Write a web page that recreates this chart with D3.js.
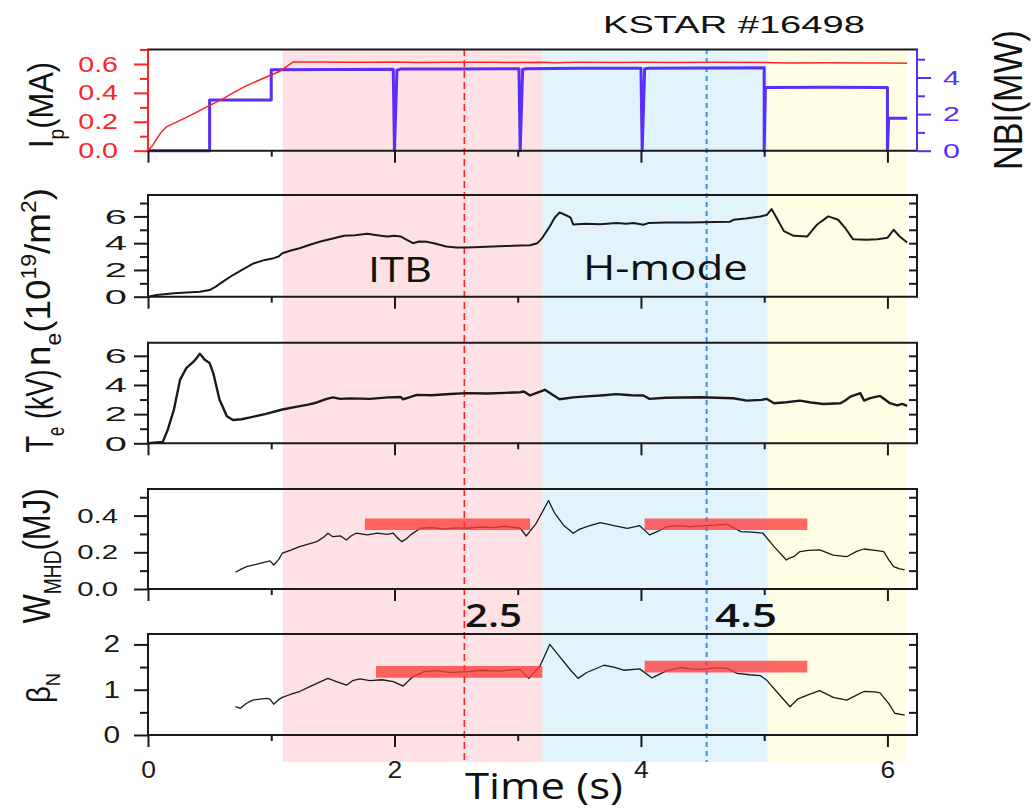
<!DOCTYPE html>
<html>
<head>
<meta charset="utf-8">
<script src="https://cdn.jsdelivr.net/npm/d3@7"></script>
<style>body{margin:0;background:#fff}</style>
</head>
<body>
<svg id="chart" width="1036" height="809"></svg>
<script>
// ---- data: [time (s), value] ----
const ipData = [[0,0],[0.04,0.04],[0.1,0.12],[0.15,0.165],[0.26,0.21],[0.38,0.26],[0.48,0.305],[0.6,0.355],
  [0.69,0.40],[0.8,0.45],[0.96,0.51],[1.07,0.55],[1.12,0.58],[1.18,0.614],[1.4,0.613],[1.6,0.611],[1.8,0.612],
  [2.0,0.613],[2.2,0.61],[2.4,0.612],[2.6,0.611],[2.8,0.612],[3.0,0.61],[3.2,0.612],[3.3,0.608],[3.5,0.611],
  [3.8,0.61],[4.0,0.612],[4.3,0.61],[4.6,0.611],[5.0,0.61],[5.2,0.606],[5.5,0.608],[5.8,0.606],[6.0,0.607],[6.16,0.605]];

const nbiData = [[0,0],[0.5,0],[0.5,2.77],[1.0,2.77],[1.0,4.42],[1.5,4.44],[1.99,4.45],[2.0,0],[2.02,4.4],
  [2.05,4.46],[2.5,4.47],[3.01,4.48],[3.02,0],[3.04,4.44],[3.07,4.48],[3.5,4.5],[4.0,4.51],[4.01,0],[4.03,4.46],
  [4.06,4.51],[4.5,4.52],[5.0,4.53],[5.0,0],[5.01,3.46],[5.5,3.47],[6.0,3.46],[6.0,0],[6.01,1.77],[6.16,1.77]];

const neData = [[0,0],[0.07,0.12],[0.21,0.25],[0.42,0.37],[0.5,0.5],[0.55,0.75],[0.62,1.2],[0.69,1.62],[0.78,2.1],
  [0.86,2.5],[0.95,2.75],[1.02,2.88],[1.06,3.0],[1.09,3.25],[1.16,3.45],[1.23,3.62],[1.32,3.9],[1.4,4.12],
  [1.5,4.35],[1.59,4.55],[1.68,4.6],[1.78,4.7],[1.86,4.6],[1.94,4.5],[2.0,4.55],[2.05,4.5],[2.1,4.25],[2.15,4.0],
  [2.2,4.12],[2.26,4.1],[2.32,4.0],[2.42,3.75],[2.5,3.68],[2.59,3.68],[2.7,3.72],[2.8,3.75],[2.9,3.78],[3.02,3.83],
  [3.1,3.85],[3.16,4.0],[3.2,4.4],[3.26,5.25],[3.3,5.9],[3.34,6.3],[3.4,6.05],[3.43,5.9],[3.45,5.4],[3.55,5.45],
  [3.67,5.42],[3.8,5.5],[3.88,5.45],[3.94,5.5],[4.02,5.38],[4.06,5.5],[4.21,5.55],[4.4,5.55],[4.6,5.58],[4.72,5.6],
  [4.75,5.75],[4.85,5.85],[4.97,6.0],[5.02,6.1],[5.06,6.55],[5.1,5.9],[5.16,4.9],[5.24,4.55],[5.35,4.5],[5.43,5.4],
  [5.52,6.0],[5.6,5.75],[5.66,5.1],[5.72,4.3],[5.83,4.25],[5.92,4.3],[6.0,4.4],[6.05,5.0],[6.1,4.5],[6.16,4.05]];

const teData = [[0,0],[0.12,0.1],[0.16,0.92],[0.21,2.3],[0.26,4.35],[0.31,5.15],[0.37,5.6],[0.4,5.9],[0.42,6.14],
  [0.44,5.95],[0.46,5.73],[0.5,5.5],[0.53,4.8],[0.58,3.0],[0.64,1.85],[0.69,1.6],[0.76,1.65],[0.83,1.78],[0.95,2.0],
  [1.09,2.32],[1.2,2.5],[1.3,2.65],[1.37,2.8],[1.45,3.05],[1.5,3.15],[1.56,3.05],[1.64,3.08],[1.8,3.05],[1.95,3.15],
  [2.05,3.18],[2.07,3.02],[2.12,3.15],[2.18,3.32],[2.3,3.3],[2.45,3.38],[2.59,3.44],[2.75,3.42],[2.9,3.46],[3.02,3.5],
  [3.05,3.55],[3.1,3.28],[3.22,3.67],[3.34,3.02],[3.45,3.15],[3.53,3.2],[3.7,3.3],[3.8,3.37],[3.92,3.3],[4.02,3.28],
  [4.07,3.05],[4.2,3.12],[4.48,3.16],[4.75,3.09],[4.86,2.93],[4.98,2.98],[5.02,3.05],[5.08,2.75],[5.18,2.82],
  [5.29,2.93],[5.38,2.8],[5.48,2.7],[5.62,2.75],[5.66,2.95],[5.7,3.2],[5.78,3.44],[5.81,2.93],[5.86,3.1],[5.94,3.25],
  [5.98,3.0],[6.02,2.75],[6.08,2.6],[6.12,2.7],[6.16,2.57]];

const wData = [[0.71,0.091],[0.76,0.11],[0.8,0.122],[0.91,0.14],[0.99,0.153],[1.02,0.131],[1.06,0.16],[1.09,0.195],
  [1.16,0.212],[1.23,0.231],[1.3,0.245],[1.37,0.258],[1.43,0.285],[1.46,0.304],[1.5,0.285],[1.56,0.29],[1.61,0.267],
  [1.65,0.29],[1.69,0.304],[1.78,0.295],[1.86,0.305],[1.94,0.298],[1.99,0.304],[2.03,0.275],[2.06,0.258],[2.1,0.275],
  [2.13,0.295],[2.21,0.331],[2.3,0.335],[2.4,0.328],[2.5,0.333],[2.59,0.331],[2.7,0.338],[2.8,0.335],[2.9,0.342],
  [3.02,0.331],[3.07,0.289],[3.15,0.358],[3.2,0.42],[3.25,0.482],[3.3,0.413],[3.37,0.349],[3.45,0.304],[3.5,0.325],
  [3.56,0.34],[3.67,0.362],[3.78,0.345],[3.89,0.331],[3.99,0.345],[4.07,0.295],[4.14,0.315],[4.21,0.34],[4.3,0.345],
  [4.4,0.34],[4.48,0.344],[4.6,0.348],[4.7,0.353],[4.81,0.313],[4.9,0.31],[4.99,0.304],[5.08,0.231],[5.18,0.158],
  [5.21,0.17],[5.24,0.176],[5.29,0.204],[5.36,0.21],[5.45,0.213],[5.56,0.185],[5.67,0.176],[5.75,0.205],[5.81,0.218],
  [5.9,0.21],[5.97,0.204],[6.01,0.16],[6.05,0.122],[6.1,0.11],[6.14,0.104]];

const betaData = [[0.71,0.625],[0.75,0.59],[0.8,0.7],[0.85,0.77],[0.96,0.81],[0.99,0.79],[1.02,0.68],[1.06,0.78],
  [1.09,0.83],[1.16,0.9],[1.23,0.96],[1.3,1.05],[1.37,1.14],[1.46,1.25],[1.53,1.18],[1.61,1.1],[1.66,1.2],[1.72,1.24],
  [1.8,1.2],[1.9,1.22],[1.99,1.18],[2.07,1.08],[2.15,1.29],[2.24,1.4],[2.35,1.42],[2.45,1.38],[2.59,1.4],[2.7,1.43],
  [2.85,1.41],[3.02,1.45],[3.05,1.36],[3.09,1.25],[3.18,1.52],[3.26,2.0],[3.34,1.73],[3.43,1.43],[3.49,1.25],
  [3.56,1.38],[3.7,1.54],[3.78,1.5],[3.86,1.43],[3.99,1.46],[4.09,1.26],[4.21,1.42],[4.32,1.49],[4.4,1.46],
  [4.48,1.45],[4.6,1.48],[4.7,1.47],[4.78,1.36],[4.88,1.33],[4.97,1.31],[5.02,1.21],[5.1,0.96],[5.21,0.625],
  [5.27,0.79],[5.35,0.88],[5.45,0.98],[5.56,0.83],[5.67,0.77],[5.75,0.88],[5.81,0.96],[5.9,0.95],[5.94,0.93],
  [6.01,0.7],[6.06,0.48],[6.14,0.44]];

// averaging windows: [start, end, level]
const wBars = [[1.76, 3.10, 0.353], [4.03, 5.35, 0.353]];
const betaBars = [[1.85, 3.20, 1.395], [4.03, 5.35, 1.51]];

// phases and analysis times
const phaseNames = ["ITB", "H-mode", ""];
const phaseStart = [1.093, 3.199, 5.029];
const phaseEnd = [3.199, 5.029, 6.156];
const markerTimes = [2.567, 4.533];
const markerLabels = ["2.5", "4.5"];
const timeTicks = [0, 2, 4, 6];
const timeMinor = [1, 3, 5];

const FONT = "'Liberation Sans', Arial, sans-serif";
const FONT2 = "'Open Sans', sans-serif";
const RED = "#ff2424";
const BLUE = "#5a2df8";

const svg = d3.select("#chart");
const x = d3.scaleLinear().domain([0, 6.24]).range([148, 917]);
const X0 = x(0), X1 = x(6.24);

const yIp = d3.scaleLinear().domain([0, 0.70]).range([150.7, 49.5]);
const yNbi = d3.scaleLinear().domain([0, 5.53]).range([150.7, 49.5]);
const yNe = d3.scaleLinear().domain([0, 7.6]).range([296.7, 195]);
const yTe = d3.scaleLinear().domain([0, 6.9]).range([443.3, 342.7]);
const yW = d3.scaleLinear().domain([0, 0.545]).range([589, 489]);
const yB = d3.scaleLinear().domain([0, 2.23]).range([735, 634]);

// background phases
const phaseColors = ["#fde1e4", "#e1f4fc", "#fffde4"];
svg.append("g").selectAll("rect")
  .data(phaseStart)
  .join("rect")
  .attr("x", (d, i) => x(d))
  .attr("width", (d, i) => x(phaseEnd[i]) - x(d))
  .attr("y", 49)
  .attr("height", 762 - 49)
  .attr("fill", (d, i) => phaseColors[i]);

// vertical dashed markers
svg.append("g").selectAll("line")
  .data(markerTimes)
  .join("line")
  .attr("x1", d => x(d)).attr("x2", d => x(d))
  .attr("y1", 49).attr("y2", 762)
  .attr("stroke", (d, i) => i === 0 ? RED : "#3b8fe0")
  .attr("stroke-width", (d, i) => i === 0 ? 1.6 : 2)
  .attr("stroke-dasharray", (d, i) => i === 0 ? "7,4" : "5,4");

function trace(data, y, color, width) {
  const line = d3.line().x(d => x(d[0])).y(d => y(d[1]));
  svg.append("path").datum(data)
    .attr("d", line)
    .attr("fill", "none")
    .attr("stroke", color)
    .attr("stroke-width", width)
    .attr("stroke-linejoin", "round");
}

trace(nbiData, yNbi, BLUE, 3);
trace(ipData, yIp, RED, 1.5);
trace(neData, yNe, "#1a1a1a", 2);
trace(teData, yTe, "#1a1a1a", 2.4);
trace(wData, yW, "#1a1a1a", 1.3);
trace(betaData, yB, "#1a1a1a", 1.3);

function bars(data, y) {
  svg.append("g").selectAll("line")
    .data(data)
    .join("line")
    .attr("x1", d => x(d[0])).attr("x2", d => x(d[1]))
    .attr("y1", d => y(d[2])).attr("y2", d => y(d[2]))
    .attr("stroke", "#ff3c3c")
    .attr("stroke-opacity", 0.78)
    .attr("stroke-width", 11.7);
}
bars(wBars, yW);
bars(betaBars, yB);

// ---- axes ----
function styleAxis(sel, color, lbl) {
  sel.select(".domain").remove();
  sel.selectAll("line").attr("stroke", color).attr("stroke-width", 2);
  if (lbl) {
    sel.selectAll("text")
      .attr("fill", color)
      .attr("font-family", FONT)
      .attr("font-size", lbl.size)
      .attr("transform", `scale(${lbl.sx},1)`)
      .attr("x", lbl.x / lbl.sx);
  }
}

function panelAxes(y, major, minor, inner, fmt, lbl, leftColor) {
  const top = y.range()[1], bottom = y.range()[0];
  const col = leftColor || "#1a1a1a";
  svg.append("g").attr("transform", `translate(${X0},0)`)
    .call(d3.axisLeft(y).tickValues(minor).tickSize(8).tickFormat(""))
    .call(g => styleAxis(g, col));
  svg.append("g").attr("transform", `translate(${X0},0)`)
    .call(d3.axisLeft(y).tickValues(major).tickSize(14).tickFormat(d3.format(fmt)))
    .call(g => styleAxis(g, col, lbl));
  if (inner) {
    svg.append("g").attr("transform", `translate(${X1},0)`)
      .call(d3.axisRight(y).tickValues(inner).tickSize(-8).tickFormat(""))
      .call(g => styleAxis(g, "#1a1a1a"));
  }
  svg.append("g").attr("transform", `translate(0,${bottom})`)
    .call(d3.axisBottom(x).tickValues(timeMinor).tickSize(6).tickFormat(""))
    .call(g => styleAxis(g, "#1a1a1a"));
  svg.append("g").attr("transform", `translate(0,${bottom})`)
    .call(d3.axisBottom(x).tickValues(timeTicks).tickSize(12).tickFormat(""))
    .call(g => styleAxis(g, "#1a1a1a"));
  // frame
  const frame = svg.append("g").attr("stroke-width", 2).attr("fill", "none");
  frame.append("line").attr("x1", X0 - 1).attr("x2", X1 + 1).attr("y1", top).attr("y2", top).attr("stroke", "#1a1a1a");
  frame.append("line").attr("x1", X0 - 1).attr("x2", X1 + 1).attr("y1", bottom).attr("y2", bottom).attr("stroke", "#1a1a1a");
  frame.append("line").attr("x1", X0).attr("x2", X0).attr("y1", top).attr("y2", bottom).attr("stroke", col);
  if (inner) frame.append("line").attr("x1", X1).attr("x2", X1).attr("y1", top).attr("y2", bottom).attr("stroke", "#1a1a1a");
}

panelAxes(yIp, [0, 0.2, 0.4, 0.6], [0.1, 0.3, 0.5, 0.7], null, ".1f", {size: 22, sx: 1.3, x: -30}, RED);
panelAxes(yNe, [0, 2, 4, 6], [1, 3, 5, 7], [1, 2, 3, 4, 5, 6, 7], "d", {size: 21, sx: 1.9, x: -21});
panelAxes(yTe, [0, 2, 4, 6], [1, 3, 5], [1, 2, 3, 4, 5, 6], "d", {size: 21, sx: 1.9, x: -21});
panelAxes(yW, [0, 0.2, 0.4], [0.1, 0.3, 0.5], [0.1, 0.2, 0.3, 0.4, 0.5], ".1f", {size: 20, sx: 1.47, x: -30});
panelAxes(yB, [0, 1, 2], [0.5, 1.5], [0.5, 1, 1.5, 2], "d", {size: 23, sx: 1.3, x: -28});

// NBI axis on the right of the top panel
svg.append("g").attr("transform", `translate(${X1},0)`)
  .call(d3.axisRight(yNbi).tickValues([1, 3, 5]).tickSize(8).tickFormat(""))
  .call(g => styleAxis(g, BLUE));
svg.append("g").attr("transform", `translate(${X1},0)`)
  .call(d3.axisRight(yNbi).tickValues([0, 2, 4]).tickSize(14).tickFormat(d3.format("d")))
  .call(g => styleAxis(g, BLUE, {size: 21, sx: 1.45, x: 26}));
svg.append("line").attr("x1", X1).attr("x2", X1).attr("y1", yNbi.range()[1]).attr("y2", yNbi.range()[0])
  .attr("stroke", BLUE).attr("stroke-width", 2);

// time tick labels under the last panel
svg.append("g").attr("transform", `translate(0,${yB.range()[0]})`)
  .call(d3.axisBottom(x).tickValues(timeTicks).tickSize(0).tickFormat(d3.format("d")))
  .call(g => {
    g.select(".domain").remove();
    g.selectAll("text").attr("fill", "#1a1a1a").attr("font-family", FONT).attr("font-size", 23)
      .attr("y", 43).attr("dy", 0).attr("x", 0).attr("transform", "scale(1.15,1)");
  });

// ---- text: font size sets glyph height, the run is then scaled to the measured length ----
function addText(px, py, parts, o) {
  const t = svg.append("text")
    .attr("font-family", o.family || FONT)
    .attr("font-size", o.size)
    .attr("font-weight", o.weight || 400)
    .attr("fill", o.fill || "#111")
    .attr("text-anchor", o.anchor || "start");
  let shift = 0;
  parts.forEach(p => {
    const [s, kind] = typeof p === "string" ? [p, "n"] : p;
    const target = kind === "sub" ? o.size * 0.3 : kind === "sup" ? -o.size * 0.4 : 0;
    const ts = t.append("tspan").text(s).attr("dy", target - shift);
    if (kind !== "n") ts.attr("font-size", o.size * 0.62);
    shift = target;
  });
  const len = t.node().getComputedTextLength();
  const k = o.width ? o.width / len : 1;
  t.attr("transform", `translate(${px},${py})` + (o.rotate ? ` rotate(${o.rotate})` : "") + ` scale(${k},1)`);
  return t;
}

addText(603, 32.5, ["KSTAR #16498"], {size: 24, width: 262});
addText(53, 105, ["I", ["p", "sub"], "(MA)"], {size: 36, width: 86, rotate: -90, anchor: "middle"});
addText(1022, 100, ["NBI(MW)"], {size: 40, width: 140, rotate: -90, anchor: "middle"});
addText(50, 277, ["n", ["e", "sub"], "(10", ["19", "sup"], "/m", ["2", "sup"], ")"], {size: 35, width: 178, rotate: -90, anchor: "middle"});
addText(53, 411, ["T", ["e", "sub"], " (kV)"], {size: 38, width: 83, rotate: -90, anchor: "middle"});
addText(50, 556, ["W", ["MHD", "sub"], "(MJ)"], {size: 38, width: 135, rotate: -90, anchor: "middle"});
addText(50, 688, ["β", ["N", "sub"]], {size: 33, width: 30, rotate: -90, anchor: "middle"});

addText(368, 282, [phaseNames[0]], {size: 35, width: 64, family: FONT2});
addText(583, 280, [phaseNames[1]], {size: 35, width: 165, family: FONT2});
addText(465, 627, [markerLabels[0]], {size: 33, width: 57, family: FONT2, weight: 600});
addText(715, 627, [markerLabels[1]], {size: 33, width: 62, family: FONT2, weight: 600});
addText(465, 799, ["Time (s)"], {size: 37, width: 158, family: FONT2});
</script>
</body>
</html>
